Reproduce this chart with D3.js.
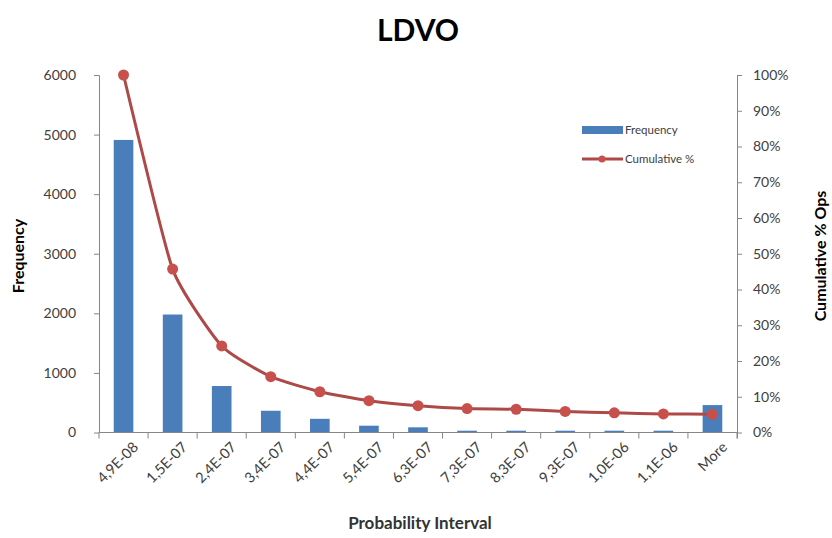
<!DOCTYPE html>
<html>
<head>
<meta charset="utf-8">
<script src="https://cdn.jsdelivr.net/npm/d3@7"></script>
<style>
  html, body { margin: 0; padding: 0; background: #fff; }
  svg { display: block; font-family: Lato, "Open Sans", sans-serif; }
</style>
</head>
<body>
<svg id="chart" width="832" height="538"></svg>
<script>
// Histogram bins (upper bound of each probability interval)
const categories = ["4,9E-08", "1,5E-07", "2,4E-07", "3,4E-07", "4,4E-07", "5,4E-07",
                    "6,3E-07", "7,3E-07", "8,3E-07", "9,3E-07", "1,0E-06", "1,1E-06", "More"];
// Count of ops in each bin
const frequency = [4910, 1980, 780, 365, 230, 114, 87, 30, 30, 30, 30, 30, 460];
// Cumulative share of ops, in percent
const cumulative = [100, 45.7, 24.2, 15.6, 11.4, 8.9, 7.5, 6.7, 6.5, 5.9, 5.5, 5.2, 5.1];
// Axis ticks
const freqTicks = [0, 1000, 2000, 3000, 4000, 5000, 6000];
const pctTicks = [0, 10, 20, 30, 40, 50, 60, 70, 80, 90, 100];

const W = 832, H = 538;
const margin = { top: 75, right: 95, bottom: 105.5, left: 99 };
const innerW = W - margin.left - margin.right;
const innerH = H - margin.top - margin.bottom;

const svg = d3.select("#chart");
const g = svg.append("g").attr("transform", `translate(${margin.left},${margin.top})`);

const x = d3.scaleBand().domain(categories).range([0, innerW]).paddingInner(0.6).paddingOuter(0.3);
const band = d3.scaleBand().domain(categories).range([0, innerW]);
const yL = d3.scaleLinear().domain([0, 6000]).range([innerH, 0]);
const yR = d3.scaleLinear().domain([0, 100]).range([innerH, 0]);

const axisColor = "#868686";
const textColor = "#404040";

// Bars
g.selectAll("rect.bar").data(categories).join("rect")
  .attr("class", "bar")
  .attr("x", d => x(d))
  .attr("width", x.bandwidth())
  .attr("y", (d, i) => yL(frequency[i]))
  .attr("height", (d, i) => innerH - yL(frequency[i]))
  .attr("fill", "#4a7ebb");

// Left axis
const leftAxis = g.append("g")
  .call(d3.axisLeft(yL).tickValues(freqTicks).tickSize(5).tickPadding(18).tickFormat(d3.format("d")));
// Right axis
const rightAxis = g.append("g").attr("transform", `translate(${innerW},0)`)
  .call(d3.axisRight(yR).tickValues(pctTicks).tickSize(5).tickPadding(11).tickFormat(d => d + "%"));
// Bottom axis: ticks on bin boundaries
const boundaries = categories.map(c => band(c)).concat([innerW]);
const bottom = g.append("g").attr("transform", `translate(0,${innerH})`);
bottom.append("line").attr("x1", 0).attr("x2", innerW).attr("stroke", axisColor);
bottom.selectAll("line.tick").data(boundaries).join("line")
  .attr("class", "tick").attr("x1", d => d).attr("x2", d => d)
  .attr("y1", 0).attr("y2", 6).attr("stroke", axisColor);
bottom.selectAll("text").data(categories).join("text")
  .attr("transform", d => `translate(${band(d) + band.bandwidth() / 2 + 12},${12}) rotate(-45)`)
  .attr("text-anchor", "end")
  .attr("dy", "0.35em")
  .attr("font-size", 14.5)
  .attr("fill", textColor)
  .text(d => d);

[leftAxis, rightAxis].forEach(a => {
  a.select(".domain").attr("stroke", axisColor);
  a.selectAll(".tick line").attr("stroke", axisColor);
  a.selectAll(".tick text").attr("fill", textColor).attr("font-size", 14).attr("font-family", "Lato, 'Open Sans', sans-serif");
});
leftAxis.select(".domain").attr("d", `M-5,0.5H0.5V${innerH}`);
rightAxis.select(".domain").attr("d", `M5,0.5H0.5V${innerH + 6}`);

// Cumulative line (smoothed)
const cx = d => band(d) + band.bandwidth() / 2;
const line = d3.line().x((d, i) => cx(categories[i])).y(d => yR(d)).curve(d3.curveCardinal.tension(0.5));
g.append("path").datum(cumulative)
  .attr("d", line)
  .attr("fill", "none")
  .attr("stroke", "#ad4a47")
  .attr("stroke-width", 3);
g.selectAll("circle.pt").data(cumulative).join("circle")
  .attr("class", "pt")
  .attr("cx", (d, i) => cx(categories[i]))
  .attr("cy", d => yR(d))
  .attr("r", 5.5)
  .attr("fill", "#c8504c");

// Title
svg.append("text").attr("x", 418).attr("y", 41).attr("text-anchor", "middle")
  .attr("font-size", 30).attr("font-weight", "bold").attr("fill", "#000").text("LDVO");

// Axis titles
svg.append("text").attr("transform", "translate(24,256) rotate(-90)")
  .attr("text-anchor", "middle").attr("font-size", 16).attr("font-weight", "bold").attr("fill", "#000")
  .text("Frequency");
svg.append("text").attr("transform", "translate(826,256) rotate(-90)")
  .attr("text-anchor", "middle").attr("font-size", 16).attr("font-weight", "bold").attr("fill", "#000")
  .text("Cumulative % Ops");
svg.append("text").attr("x", 420).attr("y", 529).attr("text-anchor", "middle")
  .attr("font-size", 17).attr("font-weight", "bold").attr("fill", "#333")
  .text("Probability Interval");

// Legend
const lg = svg.append("g").attr("transform", "translate(582,126)");
lg.append("rect").attr("x", 0).attr("y", 0).attr("width", 41).attr("height", 8).attr("fill", "#4a7ebb");
lg.append("text").attr("x", 43).attr("y", 4).attr("dy", "0.35em").attr("font-size", 11.5).attr("fill", textColor).text("Frequency");
lg.append("line").attr("x1", 0).attr("x2", 41).attr("y1", 33).attr("y2", 33).attr("stroke", "#ad4a47").attr("stroke-width", 3);
lg.append("circle").attr("cx", 20).attr("cy", 33).attr("r", 3.5).attr("fill", "#c8504c");
lg.append("text").attr("x", 43).attr("y", 33).attr("dy", "0.35em").attr("font-size", 11.5).attr("fill", textColor).text("Cumulative %");
</script>
</body>
</html>
